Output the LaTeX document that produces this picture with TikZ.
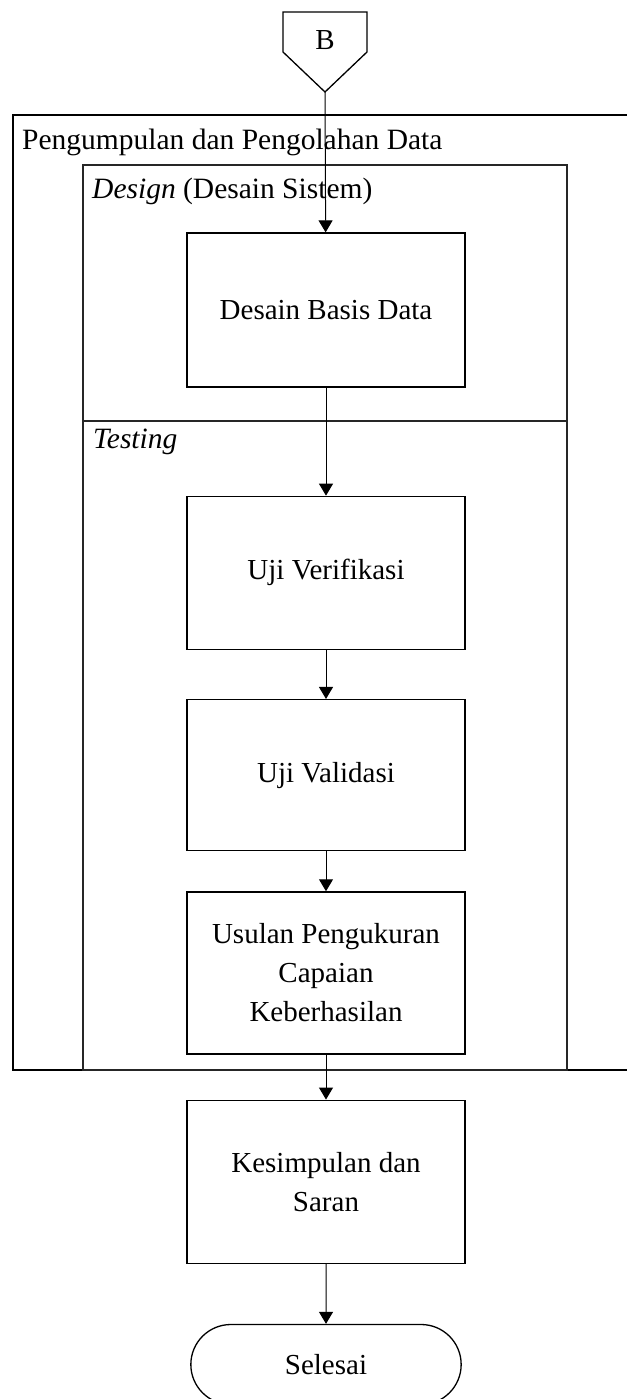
\documentclass[tikz,border=0pt]{standalone}
\usepackage{fontspec}
\setmainfont{Liberation Serif}
\usetikzlibrary{arrows.meta, positioning, shapes.misc}

\begin{document}
\begin{tikzpicture}[
    x=1pt, y=-1pt,
    node distance=45pt,
    proc/.style={draw, line width=1.3pt, align=center, minimum width=278pt,
        minimum height=153pt, font=\fontsize{29}{39}\selectfont, inner sep=0pt},
    term/.style={draw, line width=1.3pt, rounded rectangle, minimum width=277pt,
        minimum height=80pt, font=\fontsize{29}{37}\selectfont},
    lane/.style={draw, line width=1.1pt, black!85},
    lbl/.style={anchor=base west, inner sep=0pt, font=\fontsize{29.5}{36}\selectfont},
    arr/.style={-{Triangle[length=12pt, width=14pt]}, line width=1pt}
]
\useasboundingbox (0,0) rectangle (626,1399);

% outer frame, open to the right
\draw[line width=1.8pt] (630,115) -- (13,115) -- (13,1070) -- (630,1070);
\node[lbl] (tpengumpulan) at (22,150) {Pengumpulan dan Pengolahan Data};

% design / testing lanes
\draw[lane] (83,165) rectangle (567,1070);
\draw[lane] (83,421) -- (567,421);
\node[lbl] (tdesign) at (92,199) {\textit{Design} (Desain Sistem)};
\node[lbl] (ttesting) at (93,448) {\textit{Testing}};

% off-page connector
\draw[line width=1.3pt] (283,12) -- (367,12) -- (367,52) -- (325,92) -- (283,52) -- cycle;
\node[font=\fontsize{29}{34}\selectfont] (b) at (325,40) {B};
\coordinate (btip) at (325,92);

\node[proc, minimum height=154pt] (desain) at (326,310) {Desain Basis Data};
\node[proc, below=108pt of desain] (verifikasi) {Uji Verifikasi};
\node[proc, below=49pt of verifikasi, minimum height=151pt] (validasi) {Uji Validasi};
\node[proc, below=40pt of validasi, minimum height=162pt] (usulan) {Usulan Pengukuran\\Capaian\\Keberhasilan};
\node[proc, below=of usulan, minimum height=163pt] (kesimpulan) {Kesimpulan dan\\Saran};
\node[term, below=60pt of kesimpulan] (selesai) {Selesai};

\draw[arr] (btip) -- (desain);
\draw[arr] (desain) -- (verifikasi);
\draw[arr] (verifikasi) -- (validasi);
\draw[arr] (validasi) -- (usulan);
\draw[arr] (usulan) -- (kesimpulan);
\draw[arr] (kesimpulan) -- (selesai);
\end{tikzpicture}
\end{document}
